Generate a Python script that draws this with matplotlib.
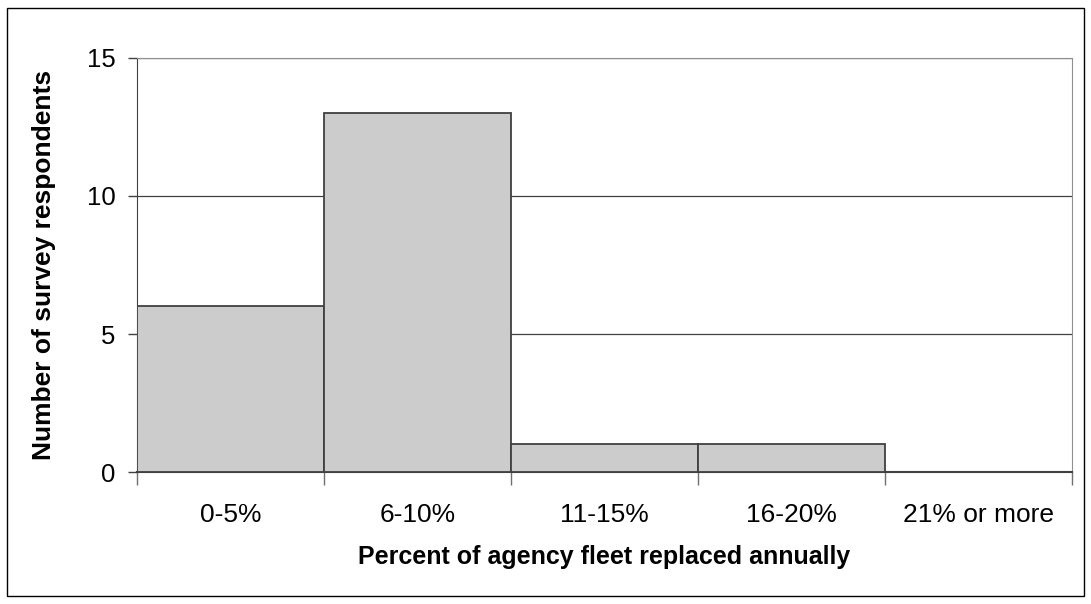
import matplotlib
matplotlib.use('Agg')
import matplotlib.pyplot as plt
from matplotlib.patches import Rectangle

plt.rcParams['font.family'] = ['Liberation Sans', 'DejaVu Sans']

# Data
categories = ['0-5%', '6-10%', '11-15%', '16-20%', '21% or more']
respondents = [6, 13, 1, 1, 0]
y_ticks = [0, 5, 10, 15]

fig = plt.figure(figsize=(10.91, 6.04), dpi=100)
ax = fig.add_axes([0.1256, 0.2185, 0.857, 0.6855])

# outer chart border
fig.patches.append(Rectangle((0.006, 0.013), 0.988, 0.974, transform=fig.transFigure,
                             fill=False, edgecolor='black', linewidth=1))

x = range(len(categories))
ax.bar(x, respondents, width=1.0, color='#cccccc', edgecolor='#404040', linewidth=1.3, zorder=3)

ax.set_xlim(-0.5, len(categories) - 0.5)
ax.set_ylim(0, 15)
ax.set_yticks(y_ticks)
ax.yaxis.grid(True, color='#404040', linewidth=0.9, zorder=0)
ax.tick_params(axis='y', length=6.5, width=1, color='#404040', labelsize=18.5, pad=9)

# category labels at centers, tick marks between categories
ax.set_xticks([i - 0.5 for i in range(len(categories) + 1)])
ax.set_xticklabels([])
ax.set_xticks(list(x), minor=True)
ax.set_xticklabels(categories, minor=True, fontsize=19)
ax.tick_params(axis='x', which='major', length=9, width=1, color='#707070', direction='out')
ax.tick_params(axis='x', which='minor', length=0, pad=22)

for side in ['top', 'right']:
    ax.spines[side].set_color('#909090')
ax.spines['left'].set_color('#404040')
ax.spines['bottom'].set_color('#404040')
ax.spines['bottom'].set_linewidth(1.5)

ax.set_xlabel('Percent of agency fleet replaced annually', fontsize=18, fontweight='bold', labelpad=13.5)
ax.set_ylabel('Number of survey respondents', fontsize=19, fontweight='bold', labelpad=22)

fig.savefig('out.png', dpi=100)
